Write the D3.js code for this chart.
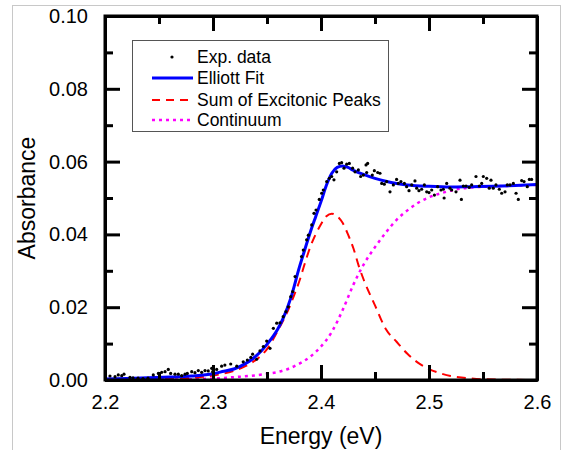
<!DOCTYPE html>
<html>
<head>
<meta charset="utf-8">
<script src="https://cdn.jsdelivr.net/npm/d3@7"></script>
<style>
  body { margin: 0; background: #fff; }
  svg { display: block; font-family: "Liberation Sans", Arial, sans-serif; }
  .axis path, .axis line { stroke: #000; stroke-width: 3; }
  .axis text { font-size: 20px; fill: #000; }
</style>
</head>
<body>
<svg id="chart" width="564" height="450"></svg>
<script>
// experimental points (energy in eV, absorbance)
var expEnergy = [2.2046,2.2093,2.2123,2.2155,2.2176,2.2231,2.2259,2.2306,2.2352,2.2398,2.2447,2.2494,2.2525,2.2556,2.2586,2.2608,2.2648,2.2679,2.271,2.2741,2.2762,2.2803,2.2833,2.2864,2.2895,2.2926,2.2956,2.2988,
  2.2997,2.3034,2.308,2.311,2.3164,2.322,2.328,2.3318,2.335,2.3367,2.3404,2.3435,2.3466,2.3497,2.3528,2.3559,2.359,2.362,2.365,2.3676,2.3697,2.372,2.3738,
  2.376,2.382,2.3836,2.3867,2.3883,2.3914,2.3935,2.3954,2.3984,2.4006,2.4021,2.4053,2.4077,2.4099,2.412,2.4145,2.417,2.4191,2.4213,2.4238,2.4262,2.4293,2.4315,2.4346,2.4367,2.4392,2.4417,
  2.4432,2.4423,2.4475,2.4494,2.4525,2.4546,2.4562,2.4586,2.4608,2.4639,2.467,2.47,2.4716,2.474,2.4772,2.4793,2.4815,2.484,2.487,2.4886,2.4907,2.4932,2.4957,2.4979,2.5,2.5025,2.505,2.508,2.5111,2.5133,2.514,2.5164,2.5194,
  2.521,2.525,2.5287,2.530,2.5318,2.5343,2.5373,2.5395,2.5435,2.5466,2.5488,2.5503,2.5534,2.5558,2.5574,2.5595,2.562,2.5651,2.5673,2.5704,2.5725,2.575,2.5781,2.5806,2.5827,2.5858,2.588,2.591,2.5929,2.595];
var expAbs = [0.0011,0.0009,0.0014,0.0012,0.0016,0.0007,0.0006,0.0005,0.0004,0.0005,0.0014,0.0018,0.0021,0.0023,0.0029,0.0018,0.0016,0.0016,0.0012,0.0016,0.0018,0.0023,0.0020,0.0026,0.0021,0.0026,0.0025,0.0032,
  0.0023,0.0029,0.0038,0.0041,0.0044,0.0038,0.0050,0.0055,0.0062,0.0071,0.0057,0.0080,0.0092,0.0107,0.0087,0.0142,0.0156,0.0157,0.0174,0.0188,0.0201,0.0229,0.0243,
  0.0284,0.0339,0.0357,0.0385,0.0398,0.0426,0.0458,0.0467,0.0496,0.0513,0.0522,0.0545,0.0554,0.0559,0.0550,0.0572,0.0595,0.0597,0.0582,0.0593,0.0595,0.0582,0.0572,0.0577,0.0559,0.0563,0.0591,
  0.0595,0.0570,0.0563,0.0575,0.0570,0.0568,0.0540,0.0538,0.0545,0.0517,0.0536,0.0551,0.0540,0.0545,0.0540,0.0531,0.0520,0.0536,0.0547,0.0527,0.0520,0.0524,0.0536,0.0517,0.0515,0.0522,0.0508,0.0531,0.0522,0.0524,0.0500,0.0540,0.0527,
  0.0522,0.0517,0.0549,0.0496,0.0533,0.0533,0.0529,0.0536,0.0559,0.0533,0.0540,0.0559,0.0554,0.0527,0.0549,0.0527,0.0536,0.0524,0.0513,0.0517,0.0536,0.0536,0.0540,0.0513,0.0496,0.0548,0.0545,0.0531,0.0551,0.0551];

// Elliott fit
var fitEnergy = [2.20,2.22,2.24,2.26,2.28,2.30,2.31,2.32,2.33,2.34,2.35,2.36,2.365,2.372,2.38,2.385,2.39,2.395,2.40,2.405,2.41,2.415,2.42,2.425,2.43,2.44,2.45,2.46,2.47,2.48,2.50,2.52,2.54,2.56,2.58,2.60];
var fitAbs = [0.0003,0.0004,0.0006,0.0008,0.0011,0.0017,0.0024,0.0031,0.0045,0.0066,0.0098,0.0140,0.0170,0.0225,0.0310,0.0358,0.0405,0.0448,0.0490,0.0535,0.0568,0.0584,0.0588,0.0584,0.0576,0.0564,0.0554,0.0546,0.0540,0.0536,0.0532,0.0530,0.0531,0.0532,0.0534,0.0537];

// sum of excitonic peaks
var excEnergy = [2.20,2.25,2.28,2.30,2.32,2.33,2.34,2.35,2.36,2.37,2.375,2.38,2.385,2.39,2.395,2.40,2.405,2.41,2.415,2.42,2.425,2.43,2.435,2.44,2.45,2.46,2.47,2.48,2.49,2.50,2.51,2.52,2.53,2.55,2.60];
var excAbs = [0.0000,0.0002,0.0006,0.0012,0.0026,0.0038,0.0056,0.0085,0.0135,0.0195,0.0232,0.0272,0.0320,0.0365,0.0400,0.0428,0.0450,0.0457,0.0450,0.0432,0.0400,0.0362,0.0313,0.0272,0.0205,0.0140,0.0105,0.0072,0.0047,0.0030,0.0019,0.0011,0.0007,0.0002,0.0000];

// continuum
var contEnergy = [2.20,2.25,2.28,2.30,2.32,2.34,2.35,2.36,2.37,2.38,2.39,2.40,2.41,2.42,2.43,2.44,2.45,2.46,2.47,2.48,2.49,2.50,2.51,2.52,2.53,2.54,2.56,2.58,2.60];
var contAbs = [0.0000,0.0001,0.0002,0.0004,0.0008,0.0013,0.0017,0.0022,0.0031,0.0045,0.0064,0.0092,0.0132,0.0192,0.0262,0.0320,0.0365,0.0405,0.0440,0.0466,0.0487,0.0502,0.0512,0.0520,0.0526,0.0529,0.0532,0.0534,0.0536];

var xMajor = [2.2,2.3,2.4,2.5,2.6];
var xMinor = [2.25,2.35,2.45,2.55];
var yMajor = [0,0.02,0.04,0.06,0.08,0.10];
var yMinor = [0.01,0.03,0.05,0.07,0.09];

var legendLabels = ["Exp. data","Elliott Fit","Sum of Excitonic Peaks","Continuum"];

var svg = d3.select("#chart");
var plotLeft = 105, plotRight = 537, plotTop = 16, plotBottom = 380;

// outer frame
svg.append("rect")
  .attr("x", 12.5).attr("y", 5.5).attr("width", 548).attr("height", 460)
  .attr("fill", "none").attr("stroke", "#c8c8c8").attr("stroke-width", 1);

var x = d3.scaleLinear().domain([2.2, 2.6]).range([plotLeft, plotRight]);
var y = d3.scaleLinear().domain([0, 0.10]).range([plotBottom, plotTop]);

function zip(es, as) {
  return es.map(function(e, i){ return [e, as[i]]; });
}

var line = d3.line()
  .x(function(d){ return x(d[0]); })
  .y(function(d){ return y(d[1]); })
  .curve(d3.curveMonotoneX);

var plot = svg.append("g");

plot.append("path").datum(zip(contEnergy, contAbs))
  .attr("d", line).attr("fill", "none")
  .attr("stroke", "#ff00ff").attr("stroke-width", 2.5)
  .attr("stroke-dasharray", "3,4");

plot.append("path").datum(zip(excEnergy, excAbs))
  .attr("d", line).attr("fill", "none")
  .attr("stroke", "#ff0000").attr("stroke-width", 2)
  .attr("stroke-dasharray", "9,6");

plot.append("path").datum(zip(fitEnergy, fitAbs))
  .attr("d", line).attr("fill", "none")
  .attr("stroke", "#0000ff").attr("stroke-width", 3);

plot.selectAll("circle.exp")
  .data(zip(expEnergy, expAbs))
  .enter().append("circle")
  .attr("class", "exp")
  .attr("cx", function(d){ return x(d[0]); })
  .attr("cy", function(d){ return y(d[1]); })
  .attr("r", 1.6)
  .attr("fill", "#000");

// axes, ticks pointing inward on all four sides
var fmtX = d3.format(".1f"), fmtY = d3.format(".2f");

svg.append("g").attr("class", "axis")
  .attr("transform", "translate(0," + plotBottom + ")")
  .call(d3.axisBottom(x).tickValues(xMajor).tickFormat(fmtX).tickSizeInner(-15).tickSizeOuter(0).tickPadding(15));
svg.append("g").attr("class", "axis")
  .attr("transform", "translate(0," + plotBottom + ")")
  .call(d3.axisBottom(x).tickValues(xMinor).tickFormat("").tickSizeInner(-8).tickSizeOuter(0));
svg.append("g").attr("class", "axis")
  .attr("transform", "translate(0," + plotTop + ")")
  .call(d3.axisTop(x).tickValues(xMajor).tickFormat("").tickSizeInner(-15).tickSizeOuter(0));
svg.append("g").attr("class", "axis")
  .attr("transform", "translate(0," + plotTop + ")")
  .call(d3.axisTop(x).tickValues(xMinor).tickFormat("").tickSizeInner(-8).tickSizeOuter(0));

svg.append("g").attr("class", "axis")
  .attr("transform", "translate(" + plotLeft + ",0)")
  .call(d3.axisLeft(y).tickValues(yMajor).tickFormat(fmtY).tickSizeInner(-15).tickSizeOuter(0).tickPadding(17));
svg.append("g").attr("class", "axis")
  .attr("transform", "translate(" + plotLeft + ",0)")
  .call(d3.axisLeft(y).tickValues(yMinor).tickFormat("").tickSizeInner(-8).tickSizeOuter(0));
svg.append("g").attr("class", "axis")
  .attr("transform", "translate(" + plotRight + ",0)")
  .call(d3.axisRight(y).tickValues(yMajor).tickFormat("").tickSizeInner(-15).tickSizeOuter(0));
svg.append("g").attr("class", "axis")
  .attr("transform", "translate(" + plotRight + ",0)")
  .call(d3.axisRight(y).tickValues(yMinor).tickFormat("").tickSizeInner(-8).tickSizeOuter(0));

svg.append("rect")
  .attr("x", plotLeft).attr("y", plotTop).attr("width", plotRight - plotLeft).attr("height", plotBottom - plotTop)
  .attr("fill", "none").attr("stroke", "#000").attr("stroke-width", 3);

// axis titles
svg.append("text")
  .attr("x", (plotLeft + plotRight) / 2).attr("y", 444)
  .attr("text-anchor", "middle").attr("font-size", 23)
  .text("Energy (eV)");
svg.append("text")
  .attr("transform", "translate(35," + (plotTop + plotBottom) / 2 + ") rotate(-90)")
  .attr("text-anchor", "middle").attr("font-size", 23)
  .text("Absorbance");

// legend
var lg = svg.append("g");
lg.append("rect")
  .attr("x", 132.5).attr("y", 40.5).attr("width", 256).attr("height", 91)
  .attr("fill", "#fff").attr("stroke", "#555").attr("stroke-width", 1);
var rowY = [57, 78, 100, 120];
legendLabels.forEach(function(lab, i){
  lg.append("text")
    .attr("x", 197).attr("y", rowY[i]).attr("dy", "0.35em")
    .attr("font-size", 17.5).text(lab);
});
lg.append("circle").attr("cx", 172).attr("cy", rowY[0]).attr("r", 1.6).attr("fill", "#000");
lg.append("line").attr("x1", 152).attr("x2", 193).attr("y1", rowY[1]).attr("y2", rowY[1])
  .attr("stroke", "#0000ff").attr("stroke-width", 3);
lg.append("line").attr("x1", 152).attr("x2", 193).attr("y1", rowY[2]).attr("y2", rowY[2])
  .attr("stroke", "#ff0000").attr("stroke-width", 2).attr("stroke-dasharray", "8,6");
lg.append("line").attr("x1", 152).attr("x2", 193).attr("y1", rowY[3]).attr("y2", rowY[3])
  .attr("stroke", "#ff00ff").attr("stroke-width", 2.5).attr("stroke-dasharray", "3,4");
</script>
</body>
</html>
